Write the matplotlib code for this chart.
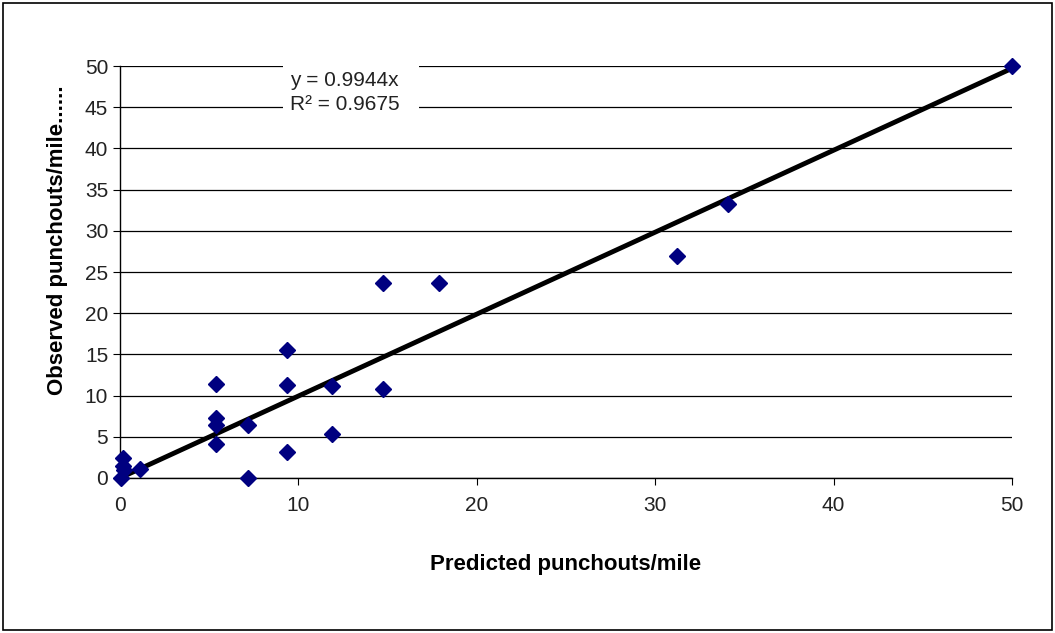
import numpy as np
import matplotlib.pyplot as plt
from matplotlib.patches import Rectangle

plt.rcParams['font.family'] = ['Liberation Sans', 'DejaVu Sans']

# predicted vs observed punchouts per mile
predicted = [0.04, 0.19, 0.19, 0.25, 1.12, 5.36, 5.36, 5.36, 5.36, 7.16, 7.16,
             9.34, 9.34, 9.34, 11.87, 11.87, 14.76, 14.76, 17.9, 31.2, 34.1, 50.0]
observed = [0.0, 2.4, 1.4, 1.0, 1.05, 11.37, 7.24, 6.4, 4.1, 6.4, 0.0,
            15.5, 11.3, 3.2, 11.2, 5.3, 10.8, 23.7, 23.7, 27.0, 33.3, 50.0]
slope = 0.9944
r2 = 0.9675

fig = plt.figure(figsize=(10.55, 6.33), dpi=100)
fig.patches.append(Rectangle((0.003, 0.004), 0.994, 0.991, transform=fig.transFigure,
                             fill=False, edgecolor='black', linewidth=1.2))
ax = fig.add_axes([0.1137, 0.2449, 0.8455, 0.6508])

ax.set_xlim(0, 50)
ax.set_ylim(0, 50)
ax.set_xticks(np.arange(0, 51, 10))
ax.set_yticks(np.arange(0, 51, 5))
ax.yaxis.grid(True, color='black', linewidth=0.9)
ax.set_axisbelow(True)
for s in ['top', 'right']:
    ax.spines[s].set_visible(False)
ax.spines['left'].set_linewidth(1.0)
ax.spines['bottom'].set_linewidth(1.0)
ax.tick_params(axis='both', labelsize=15, direction='out', length=5,
               colors='black', labelcolor='#222222')
ax.tick_params(axis='x', pad=8)

xs = np.array([0, 50])
ax.plot(xs, slope * xs, color='black', linewidth=3.5, zorder=3, clip_on=False)
ax.plot(predicted, observed, linestyle='none', marker='D', markersize=8,
        color='#000080', zorder=4, clip_on=False)

# white box behind the trendline equation (breaks the gridlines)
ax.add_patch(Rectangle((9.14, 44.0), 7.6, 6.8, facecolor='white', edgecolor='none',
                       zorder=2, clip_on=False))
ax.text(12.6, 46.8, 'y = 0.9944x\nR² = 0.9675', ha='center', va='center',
        fontsize=15, linespacing=1.35, color='#222222', zorder=5)

ax.set_xlabel('Predicted punchouts/mile', fontsize=16, fontweight='bold', labelpad=28)
ax.set_ylabel('Observed punchouts/mile......', fontsize=16, fontweight='bold')
ax.yaxis.set_label_coords(-0.058, 0.578)

fig.savefig('out.png', dpi=100)
